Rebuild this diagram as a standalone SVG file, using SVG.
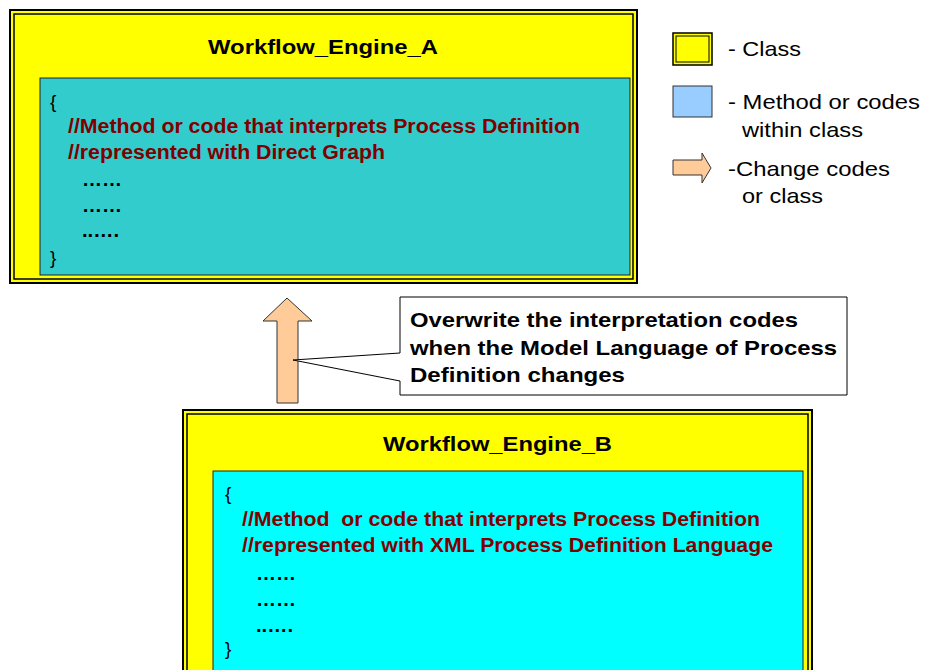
<svg xmlns="http://www.w3.org/2000/svg" width="925" height="670" viewBox="0 0 925 670">
  <style>
    text { font-family: "Liberation Sans", Arial, sans-serif; }
    .cls-outer { fill: #FFFF00; stroke: #000; stroke-width: 2; }
    .cls-inner { fill: none; stroke: #000; stroke-width: 1.5; }
    .title { font-size: 21px; font-weight: bold; fill: #000; }
    .brace { font-size: 19px; fill: #000; }
    .code { font-size: 20px; font-weight: bold; fill: #800000; }
    .dots { font-size: 20px; font-weight: bold; fill: #000; }
    .legend { font-size: 21px; fill: #000; }
    .note { font-size: 21px; font-weight: bold; fill: #000; }
    .change { fill: #FFCC99; stroke: #333; stroke-width: 1; }
  </style>

  <!-- Class A -->
  <g id="workflow-engine-a">
    <rect class="cls-outer" x="10" y="10" width="627" height="273"/>
    <rect class="cls-inner" x="14" y="14" width="619" height="265"/>
    <text class="title" x="208" y="54" textLength="230" lengthAdjust="spacingAndGlyphs">Workflow_Engine_A</text>
    <rect x="40" y="78" width="590" height="197" fill="#33CCCC" stroke="#222" stroke-width="1"/>
    <text class="brace" x="50" y="108">{</text>
    <text class="code" x="68" y="133" textLength="512" lengthAdjust="spacingAndGlyphs">//Method or code that interprets Process Definition</text>
    <text class="code" x="68" y="159" textLength="317" lengthAdjust="spacingAndGlyphs">//represented with Direct Graph</text>
    <text class="dots" x="82" y="186" textLength="40" lengthAdjust="spacingAndGlyphs">……</text>
    <text class="dots" x="82" y="212" textLength="40" lengthAdjust="spacingAndGlyphs">……</text>
    <text class="dots" x="82" y="237" textLength="37" lengthAdjust="spacingAndGlyphs">..….</text>
    <text class="brace" x="50" y="264">}</text>
  </g>

  <!-- Class B -->
  <g id="workflow-engine-b">
    <rect class="cls-outer" x="183" y="410" width="629" height="270"/>
    <rect class="cls-inner" x="187" y="414" width="621" height="270"/>
    <text class="title" x="383" y="451" textLength="229" lengthAdjust="spacingAndGlyphs">Workflow_Engine_B</text>
    <rect x="213" y="471" width="590" height="210" fill="#00FFFF" stroke="#222" stroke-width="1"/>
    <text class="brace" x="225" y="500">{</text>
    <text class="code" x="242" y="526" textLength="518" lengthAdjust="spacingAndGlyphs" xml:space="preserve">//Method  or code that interprets Process Definition</text>
    <text class="code" x="242" y="552" textLength="531" lengthAdjust="spacingAndGlyphs">//represented with XML Process Definition Language</text>
    <text class="dots" x="256" y="580" textLength="40" lengthAdjust="spacingAndGlyphs">……</text>
    <text class="dots" x="256" y="606" textLength="40" lengthAdjust="spacingAndGlyphs">……</text>
    <text class="dots" x="256" y="632" textLength="37" lengthAdjust="spacingAndGlyphs">..….</text>
    <text class="brace" x="225" y="655">}</text>
  </g>

  <!-- Change arrow from B up to A -->
  <g id="connectors">
    <polygon id="change-arrow" class="change" points="287,298 312,321 298,321 298,403 277,403 277,321 263,321"/>
  </g>

  <!-- Callout pointing at the arrow -->
  <g id="note">
    <path d="M400,297 H847 V395 H400 V381 L293,360 L400,353 Z" fill="#FFFFFF" stroke="#000" stroke-width="1"/>
    <text class="note" x="410" y="327" textLength="388" lengthAdjust="spacingAndGlyphs">Overwrite the interpretation codes</text>
    <text class="note" x="410" y="355" textLength="427" lengthAdjust="spacingAndGlyphs">when the Model Language of Process</text>
    <text class="note" x="410" y="382" textLength="215" lengthAdjust="spacingAndGlyphs">Definition changes</text>
  </g>

  <!-- Legend -->
  <g id="legend">
    <rect x="673" y="33" width="39" height="32" fill="#FFFF00" stroke="#000" stroke-width="1.5"/>
    <rect x="676" y="36" width="33" height="26" fill="none" stroke="#000" stroke-width="1"/>
    <text class="legend" x="728" y="56" textLength="73" lengthAdjust="spacingAndGlyphs">- Class</text>

    <rect x="673" y="86" width="39" height="31" fill="#99CCFF" stroke="#333" stroke-width="1"/>
    <text class="legend" x="728" y="109" textLength="192" lengthAdjust="spacingAndGlyphs">- Method or codes</text>
    <text class="legend" x="742" y="137" textLength="121" lengthAdjust="spacingAndGlyphs">within class</text>

    <polygon class="change" points="673,160 702,160 702,153 711,168 702,183 702,175 673,175"/>
    <text class="legend" x="728" y="176" textLength="162" lengthAdjust="spacingAndGlyphs">-Change codes</text>
    <text class="legend" x="742" y="203" textLength="81" lengthAdjust="spacingAndGlyphs">or class</text>
  </g>
</svg>
